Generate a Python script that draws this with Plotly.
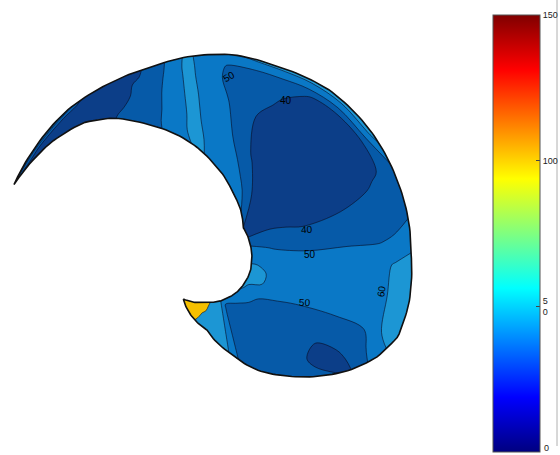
import numpy as np
import plotly.graph_objects as go

# ---------------- data ----------------
# sweep angle around the spiral (degrees) and relative depth across the band (0 inner -> 1 outer)
angle_deg = [-133, -120, -105, -92, -85, -78, -75, -60, -48, -38, -30, -22, -10, 0, 8, 18, 28,
             40, 52, 62, 70, 78, 86, 93, 98, 104, 112, 120, 128, 136, 146, 153, 158.2]
depth = [0, 0.15, 0.35, 0.6, 0.8, 0.9, 1.0]

# field values, one row per angle (values across depth)
values_by_angle = [
    [105, 105, 105, 105, 105, 105, 105],
    [95, 95, 92, 90, 88, 85, 82],
    [76, 74, 72, 68, 65, 64, 63],
    [66, 65, 65, 65, 65, 65, 65],
    [64, 64, 64, 64, 64, 64, 64],
    [57, 57, 57, 57, 57, 57, 57],
    [53, 47, 46, 46, 46, 46, 46],
    [54, 48, 45, 44, 44, 44, 44],
    [59, 49, 45, 43, 41, 41, 42],
    [61, 50, 46, 42, 37, 37, 39],
    [62, 52, 48, 46, 45, 48, 55],
    [64, 58, 52, 50.5, 51, 60, 65],
    [64, 58, 55, 55, 57, 62, 65],
    [61, 57, 54, 53, 57, 61, 64],
    [57, 54, 50.5, 50, 49.5, 51, 55],
    [55, 48, 44, 43, 44, 45, 46],
    [50, 43, 37, 37, 39, 41, 47],
    [40, 36, 34, 34, 34, 35, 65],
    [39, 36, 33, 33, 34, 36, 65],
    [49, 39, 35, 34, 35, 41, 64],
    [53, 48, 37, 36, 42, 45, 63],
    [56, 52, 47, 43, 44, 47, 62],
    [58, 56, 53, 51, 48, 49, 58],
    [59, 58, 57, 57, 56, 56, 57],
    [61, 63, 63, 63, 63, 63, 62],
    [59, 58, 56, 54, 52, 51, 50],
    [49, 48, 46, 44, 42, 40, 38],
    [43, 42, 40, 37, 36, 35, 35],
    [37, 36, 35, 35, 35, 35, 37],
    [36, 35, 35, 36, 40, 48, 60],
    [36, 36, 37, 40, 48, 56, 63],
    [38, 39, 42, 47, 54, 60, 64],
    [45, 47, 50, 54, 59, 62, 64],
]
# contour labels shown on the map
label_text = ["50", "40", "40", "50", "50", "60"]
cbar_tickvals = [0, 50, 100, 150]
cbar_ticktext = ["0", "5<br>0", "100", "150"]
CMIN, CMAX = 0, 150

# ---------------- layout / geometry ----------------
W, H = 560, 455
CX, CY = 215.0, 265.0
inner_phi = [-133, -102, -65, -29.5, 7.7, 32, 53.6, 76, 91, 105, 116, 124.8, 132.9, 143.5, 158.2]
inner_r = [46.5, 38, 35, 34.5, 37, 41, 47, 74, 102, 133, 157, 179, 194, 205, 216.5]
outer_phi = [-133, -97, -80.3, -68.2, -57, -46.6, -37.9, -29.6, -21.3, -11.1, 3.5, 10.2, 25,
             41, 56.7, 71.8, 85.1, 97.7, 108.2, 120, 133.7, 147.7, 158.2]
outer_r = [46.5, 65.5, 89.3, 113, 132.3, 152.8, 171, 186.3, 196.5, 197.7, 196.4, 198, 201,
           205.5, 209, 208, 211, 210, 208, 210, 214, 215, 216.5]

a_fine = np.linspace(angle_deg[0], angle_deg[-1], 260)
b_fine = np.linspace(0, 1, 11)
rin = np.interp(a_fine, inner_phi, inner_r)
rout = np.interp(a_fine, outer_phi, outer_r)
R = rin[None, :] + b_fine[:, None] * (rout - rin)[None, :]
PH = np.radians(a_fine)[None, :]
X = CX + R * np.cos(PH)
Y = CY - R * np.sin(PH)

label_pos = [(229, 76, -30), (286, 100, 0), (307, 229, -3), (310, 254, 0), (305, 302, 2), (381, 291, -80)]
CB_LEFT, CB_TOP, CB_BOTTOM, CB_THICK = 493, 15, 452, 47

z = np.array(values_by_angle, dtype=float).T.tolist()  # rows: depth, cols: angle

fill_scale = [
    [0.0, "rgb(10,45,120)"],
    [0.2, "rgb(12,62,136)"],
    [0.4, "rgb(6,90,168)"],
    [0.6, "rgb(10,120,198)"],
    [0.8, "rgb(28,150,212)"],
    [1.0, "rgb(246,192,0)"],
]
jet = [[0, "rgb(0,0,128)"], [0.125, "rgb(0,0,255)"], [0.375, "rgb(0,255,255)"],
       [0.625, "rgb(255,255,0)"], [0.875, "rgb(255,0,0)"], [1, "rgb(128,0,0)"]]

fig = go.Figure()
fig.add_trace(go.Carpet(
    a=a_fine.tolist(), b=b_fine.tolist(), x=X.tolist(), y=Y.tolist(), carpet="c1",
    aaxis=dict(showgrid=False, startline=False, endline=False, showticklabels="none",
               showline=False, minorgridcount=0, smoothing=0),
    baxis=dict(showgrid=False, startline=False, endline=False, showticklabels="none",
               showline=False, minorgridcount=0, smoothing=0),
))
fig.add_trace(go.Contourcarpet(
    a=angle_deg, b=depth, z=z, carpet="c1",
    autocontour=False,
    contours=dict(start=30, end=70, size=10, coloring="fill", showlabels=False),
    colorscale=fill_scale, showscale=False,
    line=dict(color="rgba(10,10,30,0.85)", width=0.7, smoothing=1),
))
# domain outline
bx = np.concatenate([X[-1, :], X[0, ::-1]])
by = np.concatenate([Y[-1, :], Y[0, ::-1]])
fig.add_trace(go.Scatter(x=bx, y=by, mode="lines", line=dict(color="#111", width=1.6),
                         showlegend=False, hoverinfo="skip"))
# colour bar (the bottom "0" label is written as an annotation so it stays on the page)
fig.add_trace(go.Scatter(
    x=[-100], y=[-100], mode="markers", showlegend=False, hoverinfo="skip",
    marker=dict(color=[0], colorscale=jet, cmin=CMIN, cmax=CMAX, showscale=True,
                colorbar=dict(thickness=CB_THICK, thicknessmode="pixels",
                              len=CB_BOTTOM - CB_TOP, lenmode="pixels",
                              x=CB_LEFT / W, xanchor="left", xpad=0,
                              y=1 - (CB_TOP + CB_BOTTOM) / 2 / H, yanchor="middle", ypad=0,
                              outlinewidth=1, outlinecolor="#555",
                              tickvals=cbar_tickvals[1:], ticktext=cbar_ticktext[1:],
                              ticks="inside", ticklen=4, tickcolor="#444",
                              tickfont=dict(size=9, color="#222", family="Liberation Sans"))),
))
fig.add_annotation(xref="paper", yref="paper", x=(CB_LEFT + CB_THICK + 2) / W, y=1 - 448 / H,
                   xanchor="left", yanchor="middle", text=cbar_ticktext[0], showarrow=False,
                   font=dict(size=9, color="#222", family="Liberation Sans"))
# small inner ticks on the left edge of the colour bar
for v in cbar_tickvals[1:-1]:
    yp = 1 - (CB_BOTTOM - (v - CMIN) / (CMAX - CMIN) * (CB_BOTTOM - CB_TOP)) / H
    fig.add_shape(type="line", xref="paper", yref="paper", x0=CB_LEFT / W, x1=(CB_LEFT + 4) / W,
                  y0=yp, y1=yp, line=dict(color="#444", width=1))
for txt, (lx, ly, ang) in zip(label_text, label_pos):
    fig.add_annotation(x=lx, y=ly, text=txt, showarrow=False, textangle=ang,
                       font=dict(size=10, color="black", family="Liberation Sans"))
fig.add_shape(type="line", xref="paper", yref="paper", x0=557 / W, x1=557 / W,
              y0=1 - 446 / H, y1=1, line=dict(color="#b0b0b0", width=1))
fig.update_layout(
    width=W, height=H, margin=dict(l=0, r=0, t=0, b=0, autoexpand=False),
    paper_bgcolor="white", plot_bgcolor="white", showlegend=False,
    xaxis=dict(range=[0, W], visible=False, fixedrange=True),
    yaxis=dict(range=[H, 0], visible=False, fixedrange=True),
)
fig.write_html("out.html", config={"displayModeBar": False},
               post_script="document.body.style.margin='0';document.body.style.overflow='hidden';")
